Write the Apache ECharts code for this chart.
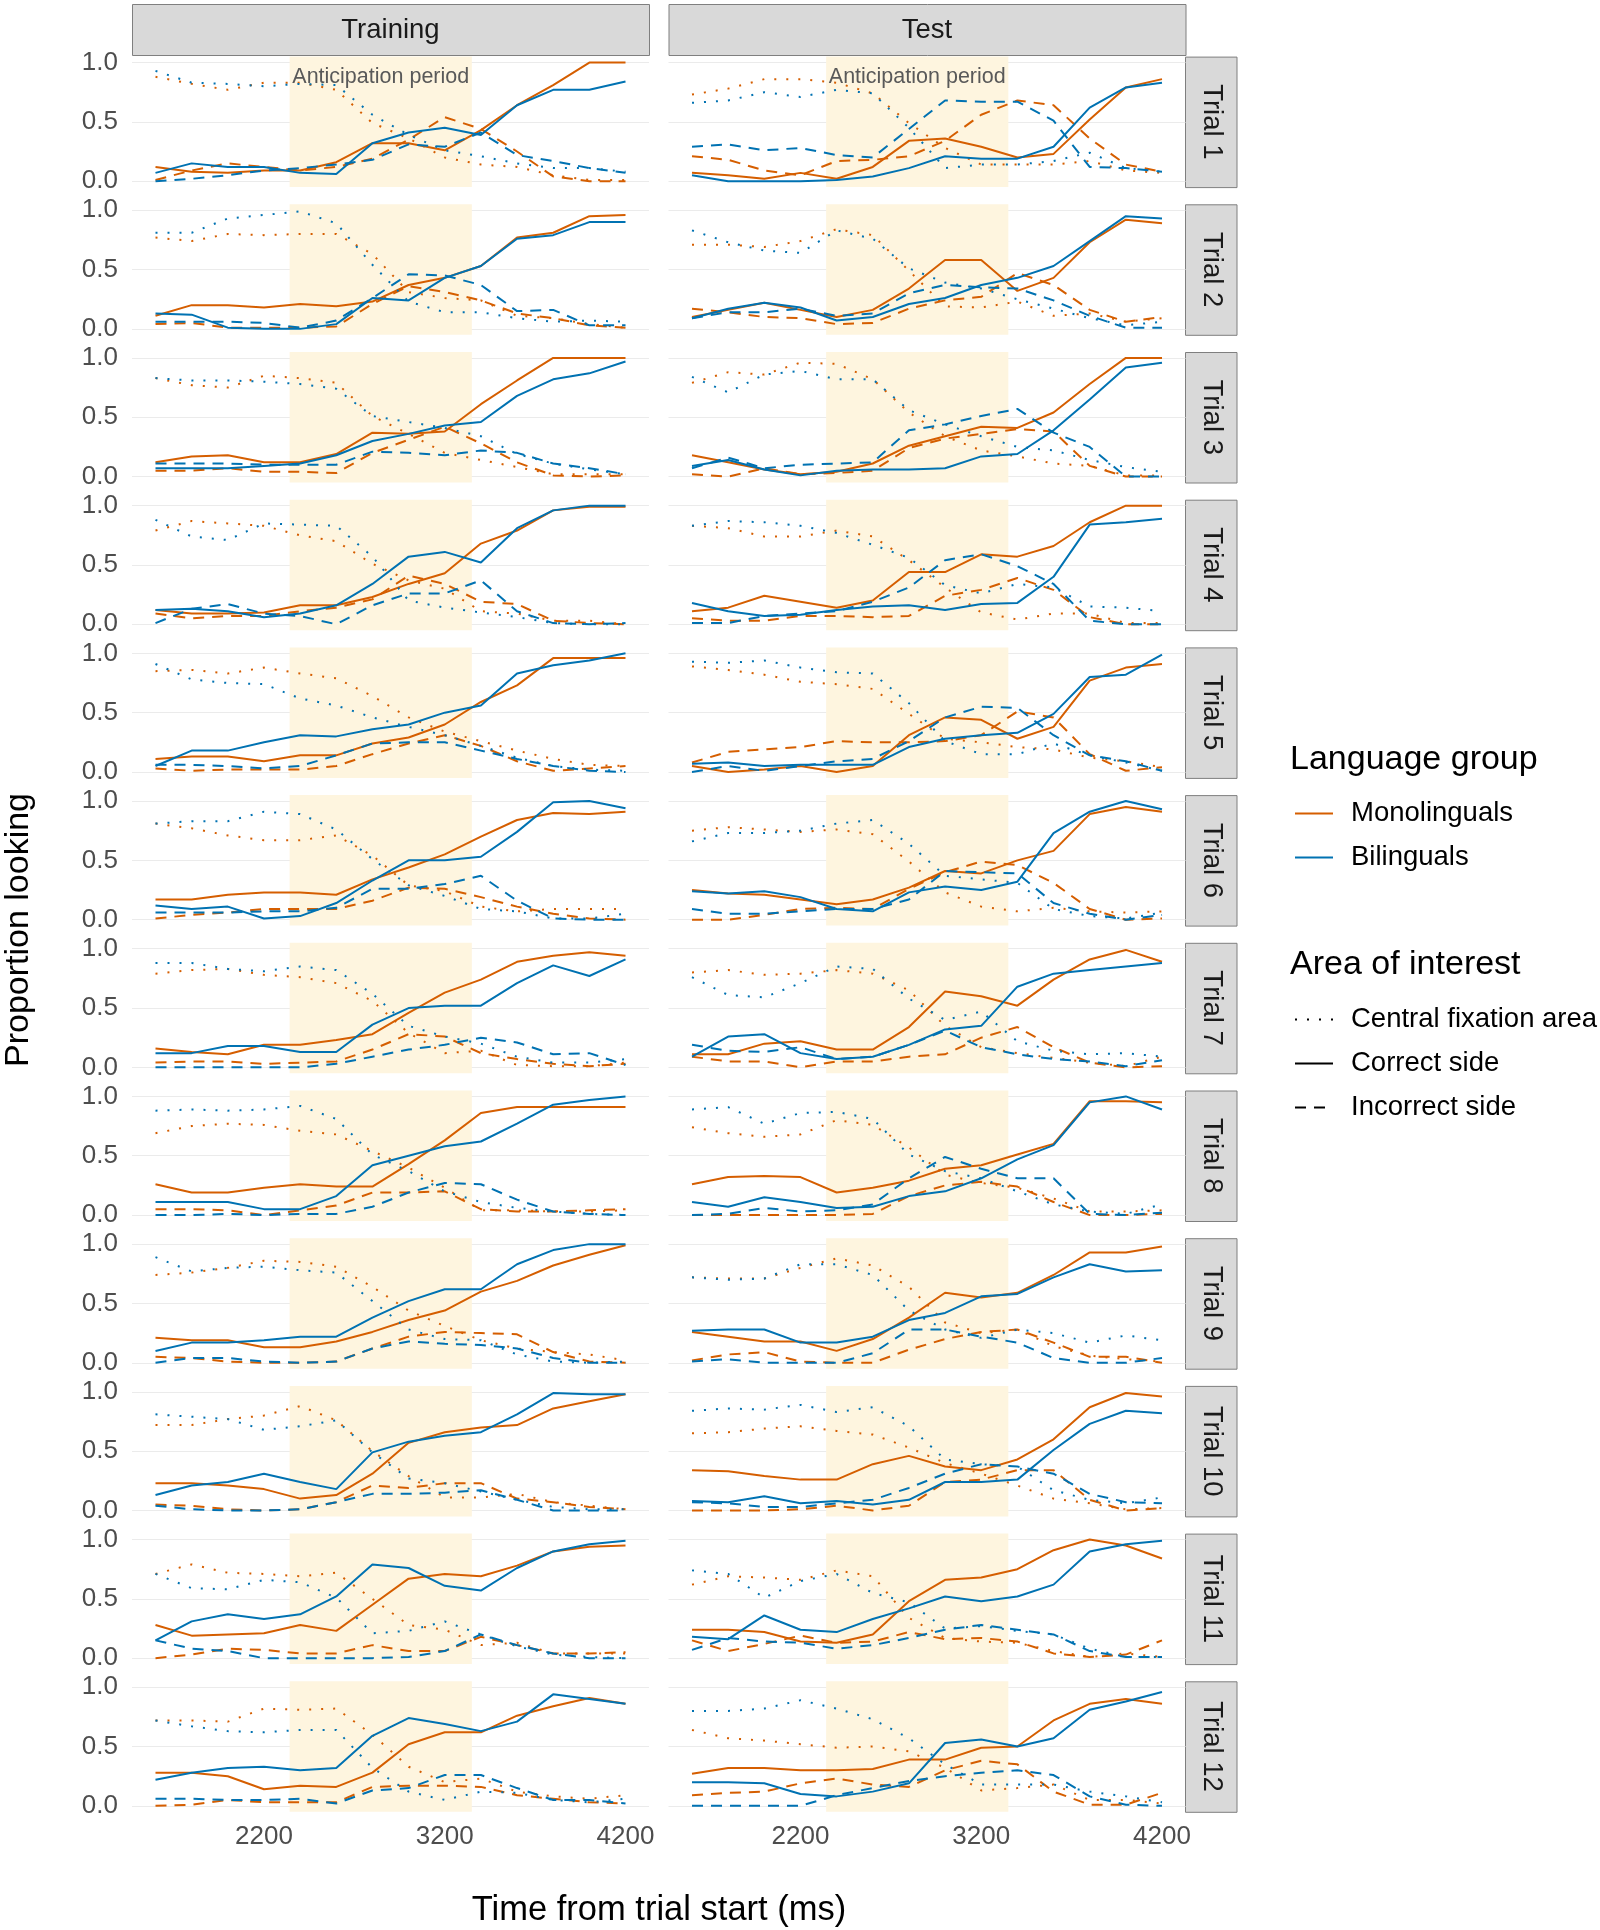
<!DOCTYPE html>
<html><head><meta charset="utf-8">
<script src="https://cdn.jsdelivr.net/npm/echarts@6/dist/echarts.min.js"></script>
<style>html,body{margin:0;padding:0;background:#fff}#c{width:1600px;height:1930px}</style>
</head><body><div id="c"></div>
<script>
const timePoints = [1600,1800,2000,2200,2400,2600,2800,3000,3200,3400,3600,3800,4000,4200];
const phases = ['Training','Test'];
const trials = ['Trial 1','Trial 2','Trial 3','Trial 4','Trial 5','Trial 6','Trial 7','Trial 8','Trial 9','Trial 10','Trial 11','Trial 12'];
const groups = ['Monolinguals','Bilinguals'];
const areas = ['Central fixation area','Correct side','Incorrect side'];
const xTickValues = [2200,3200,4200];
const yTickValues = [0,0.5,1];
const anticipationPeriod = [2342,3350];

const trainMonoCentral = [
[0.88,0.82,0.77,0.83,0.83,0.77,0.49,0.36,0.20,0.14,0.12,0.05,0.01,0.01],
[0.77,0.74,0.80,0.79,0.80,0.80,0.63,0.31,0.26,0.24,0.11,0.09,0.04,0.01],
[0.83,0.77,0.75,0.85,0.83,0.79,0.51,0.36,0.20,0.14,0.08,0.02,0.02,0.02],
[0.79,0.87,0.85,0.83,0.75,0.70,0.51,0.37,0.30,0.11,0.09,0.03,0.03,0.00],
[0.85,0.86,0.83,0.88,0.83,0.79,0.64,0.46,0.34,0.26,0.18,0.11,0.06,0.05],
[0.81,0.77,0.71,0.67,0.67,0.71,0.54,0.29,0.24,0.11,0.07,0.09,0.09,0.09],
[0.79,0.82,0.83,0.78,0.76,0.71,0.56,0.29,0.12,0.14,0.02,0.01,0.01,0.04],
[0.69,0.75,0.77,0.76,0.71,0.68,0.54,0.40,0.23,0.04,0.04,0.03,0.03,0.04],
[0.74,0.76,0.80,0.86,0.85,0.81,0.64,0.44,0.31,0.19,0.12,0.09,0.07,0.02],
[0.72,0.72,0.77,0.80,0.88,0.76,0.50,0.29,0.11,0.11,0.14,0.07,0.04,0.01],
[0.71,0.79,0.72,0.71,0.69,0.72,0.50,0.28,0.24,0.11,0.13,0.04,0.04,0.04],
[0.72,0.72,0.71,0.82,0.81,0.82,0.60,0.33,0.20,0.23,0.12,0.08,0.06,0.09]];
const trainMonoCorrect = [
[0.12,0.08,0.07,0.09,0.09,0.16,0.32,0.32,0.26,0.43,0.64,0.81,1.00,1.00],
[0.11,0.20,0.20,0.18,0.21,0.19,0.23,0.37,0.43,0.53,0.77,0.81,0.95,0.96],
[0.12,0.17,0.18,0.12,0.12,0.19,0.37,0.36,0.38,0.61,0.81,1.00,1.00,1.00],
[0.12,0.09,0.09,0.10,0.16,0.16,0.23,0.34,0.43,0.68,0.79,0.96,0.99,0.99],
[0.11,0.13,0.13,0.09,0.14,0.14,0.24,0.29,0.40,0.59,0.73,0.96,0.96,0.96],
[0.17,0.17,0.21,0.23,0.23,0.21,0.34,0.44,0.55,0.70,0.84,0.90,0.89,0.91],
[0.16,0.13,0.11,0.19,0.19,0.23,0.28,0.46,0.63,0.74,0.89,0.94,0.97,0.94],
[0.26,0.19,0.19,0.23,0.26,0.24,0.24,0.43,0.63,0.86,0.91,0.91,0.91,0.91],
[0.21,0.19,0.19,0.13,0.13,0.18,0.26,0.36,0.44,0.60,0.69,0.82,0.91,0.99],
[0.23,0.23,0.21,0.18,0.10,0.13,0.31,0.57,0.66,0.70,0.72,0.86,0.92,0.98],
[0.28,0.19,0.20,0.21,0.28,0.23,0.45,0.67,0.71,0.69,0.78,0.90,0.94,0.95],
[0.28,0.28,0.25,0.14,0.17,0.16,0.28,0.52,0.62,0.62,0.76,0.84,0.91,0.86]];
const trainMonoIncorrect = [
[0.01,0.09,0.15,0.12,0.09,0.12,0.19,0.35,0.54,0.44,0.25,0.04,0.00,0.00],
[0.04,0.05,0.01,0.01,0.01,0.02,0.21,0.36,0.31,0.24,0.13,0.09,0.03,0.01],
[0.05,0.05,0.07,0.04,0.04,0.03,0.20,0.31,0.42,0.28,0.12,0.01,0.00,0.01],
[0.09,0.05,0.07,0.07,0.11,0.14,0.21,0.41,0.34,0.19,0.17,0.03,0.01,0.00],
[0.03,0.01,0.02,0.02,0.02,0.05,0.15,0.24,0.31,0.22,0.09,0.01,0.03,0.05],
[0.01,0.04,0.06,0.09,0.09,0.09,0.16,0.27,0.26,0.19,0.11,0.05,0.01,0.00],
[0.04,0.05,0.05,0.03,0.04,0.05,0.15,0.28,0.26,0.12,0.07,0.03,0.01,0.03],
[0.05,0.05,0.04,0.00,0.04,0.08,0.19,0.19,0.20,0.05,0.03,0.03,0.04,0.05],
[0.05,0.04,0.01,0.00,0.00,0.01,0.12,0.22,0.26,0.25,0.24,0.09,0.01,0.00],
[0.05,0.04,0.01,0.00,0.01,0.07,0.21,0.19,0.23,0.23,0.10,0.07,0.03,0.01],
[0.00,0.03,0.08,0.07,0.04,0.04,0.11,0.06,0.06,0.18,0.11,0.04,0.04,0.05],
[0.00,0.01,0.05,0.03,0.03,0.03,0.16,0.17,0.17,0.16,0.09,0.06,0.03,0.02]];
const trainBiCentral = [
[0.93,0.83,0.82,0.80,0.82,0.81,0.56,0.39,0.26,0.21,0.15,0.11,0.11,0.08],
[0.81,0.81,0.93,0.96,0.99,0.89,0.54,0.23,0.14,0.14,0.09,0.06,0.07,0.06],
[0.83,0.81,0.81,0.80,0.78,0.74,0.51,0.46,0.41,0.34,0.19,0.11,0.06,0.02],
[0.88,0.74,0.71,0.85,0.84,0.83,0.57,0.20,0.14,0.10,0.06,0.01,0.00,0.00],
[0.91,0.78,0.75,0.74,0.62,0.56,0.46,0.38,0.31,0.22,0.12,0.05,0.02,0.01],
[0.81,0.83,0.83,0.91,0.89,0.76,0.51,0.29,0.20,0.09,0.07,0.01,0.01,0.05],
[0.88,0.88,0.83,0.81,0.85,0.82,0.62,0.35,0.26,0.20,0.09,0.04,0.04,0.07],
[0.88,0.89,0.88,0.89,0.92,0.81,0.51,0.37,0.20,0.11,0.06,0.03,0.01,0.00],
[0.89,0.77,0.80,0.81,0.78,0.76,0.52,0.28,0.20,0.19,0.07,0.01,0.00,0.01],
[0.81,0.79,0.77,0.68,0.71,0.76,0.49,0.27,0.23,0.16,0.09,0.03,0.01,0.01],
[0.71,0.59,0.58,0.66,0.64,0.51,0.21,0.23,0.31,0.20,0.10,0.03,0.01,0.00],
[0.72,0.67,0.63,0.62,0.64,0.64,0.32,0.12,0.05,0.12,0.11,0.05,0.03,0.06]];
const trainBiCorrect = [
[0.07,0.15,0.12,0.12,0.07,0.06,0.32,0.41,0.45,0.39,0.64,0.77,0.77,0.84],
[0.13,0.12,0.01,0.00,0.00,0.04,0.26,0.24,0.43,0.53,0.76,0.79,0.90,0.90],
[0.07,0.07,0.07,0.09,0.11,0.18,0.30,0.36,0.43,0.46,0.68,0.82,0.87,0.97],
[0.12,0.13,0.11,0.06,0.09,0.16,0.34,0.57,0.61,0.52,0.81,0.96,1.00,1.00],
[0.05,0.18,0.18,0.25,0.31,0.30,0.36,0.40,0.50,0.56,0.83,0.90,0.94,1.00],
[0.12,0.09,0.11,0.01,0.03,0.14,0.33,0.50,0.50,0.53,0.74,0.99,1.00,0.94],
[0.12,0.12,0.18,0.18,0.13,0.13,0.36,0.50,0.52,0.52,0.71,0.86,0.77,0.91],
[0.11,0.11,0.11,0.05,0.05,0.16,0.42,0.50,0.58,0.62,0.77,0.93,0.97,1.00],
[0.10,0.17,0.17,0.19,0.22,0.22,0.38,0.52,0.62,0.62,0.83,0.95,1.00,1.00],
[0.13,0.21,0.24,0.31,0.24,0.18,0.49,0.58,0.63,0.66,0.81,0.99,0.98,0.98],
[0.15,0.31,0.37,0.33,0.37,0.52,0.79,0.76,0.61,0.57,0.76,0.90,0.96,0.99],
[0.22,0.28,0.32,0.33,0.30,0.32,0.59,0.74,0.69,0.63,0.71,0.94,0.90,0.86]];
const trainBiIncorrect = [
[0.00,0.02,0.05,0.09,0.11,0.14,0.18,0.31,0.29,0.41,0.22,0.17,0.11,0.07],
[0.06,0.06,0.06,0.05,0.01,0.07,0.26,0.46,0.45,0.37,0.15,0.16,0.03,0.03],
[0.11,0.11,0.11,0.10,0.10,0.10,0.21,0.20,0.18,0.22,0.20,0.11,0.07,0.02],
[0.01,0.13,0.17,0.09,0.07,0.00,0.16,0.26,0.26,0.37,0.11,0.01,0.00,0.01],
[0.06,0.06,0.05,0.03,0.05,0.14,0.24,0.25,0.25,0.18,0.11,0.05,0.01,0.00],
[0.06,0.06,0.06,0.07,0.07,0.10,0.26,0.26,0.30,0.37,0.16,0.01,0.00,0.00],
[0.00,0.00,0.00,0.00,0.00,0.03,0.09,0.15,0.19,0.25,0.21,0.11,0.12,0.02],
[0.00,0.00,0.01,0.00,0.01,0.01,0.07,0.19,0.27,0.26,0.13,0.03,0.01,0.00],
[0.00,0.04,0.04,0.01,0.00,0.01,0.12,0.18,0.16,0.15,0.12,0.04,0.00,0.00],
[0.04,0.01,0.00,0.00,0.01,0.07,0.14,0.14,0.15,0.17,0.09,0.00,0.00,0.00],
[0.15,0.08,0.06,0.00,0.00,0.00,0.00,0.01,0.06,0.20,0.11,0.04,0.00,0.00],
[0.06,0.06,0.05,0.05,0.06,0.02,0.13,0.15,0.26,0.26,0.15,0.05,0.05,0.02]];

const testMonoCentral = [
[0.73,0.78,0.86,0.86,0.83,0.74,0.49,0.28,0.14,0.14,0.14,0.17,0.09,0.07],
[0.71,0.71,0.69,0.74,0.84,0.79,0.49,0.19,0.18,0.23,0.11,0.13,0.06,0.09],
[0.79,0.88,0.86,0.96,0.95,0.82,0.54,0.34,0.22,0.17,0.11,0.09,0.01,0.01],
[0.83,0.81,0.74,0.74,0.79,0.74,0.54,0.31,0.10,0.04,0.09,0.09,0.01,0.01],
[0.89,0.86,0.82,0.76,0.74,0.70,0.49,0.28,0.25,0.21,0.19,0.12,0.09,0.04],
[0.75,0.78,0.76,0.74,0.76,0.72,0.49,0.23,0.11,0.07,0.10,0.07,0.06,0.07],
[0.80,0.82,0.78,0.79,0.82,0.79,0.65,0.35,0.17,0.12,0.08,0.04,0.01,0.09],
[0.74,0.69,0.66,0.68,0.80,0.76,0.57,0.34,0.27,0.23,0.14,0.03,0.03,0.04],
[0.72,0.71,0.71,0.80,0.88,0.82,0.64,0.34,0.25,0.28,0.14,0.06,0.03,0.01],
[0.65,0.66,0.69,0.71,0.67,0.64,0.53,0.40,0.31,0.21,0.10,0.06,0.01,0.02],
[0.62,0.69,0.68,0.66,0.74,0.69,0.34,0.17,0.14,0.13,0.06,0.01,0.04,0.01],
[0.64,0.57,0.55,0.52,0.49,0.50,0.46,0.32,0.13,0.15,0.18,0.05,0.05,0.02]];
const testMonoCorrect = [
[0.07,0.05,0.02,0.07,0.02,0.12,0.34,0.36,0.29,0.20,0.23,0.52,0.79,0.86],
[0.10,0.16,0.22,0.16,0.10,0.16,0.34,0.58,0.58,0.32,0.43,0.73,0.92,0.89],
[0.18,0.12,0.06,0.02,0.04,0.11,0.26,0.34,0.42,0.41,0.54,0.78,1.00,1.00],
[0.11,0.14,0.24,0.19,0.14,0.20,0.44,0.44,0.59,0.57,0.66,0.86,1.00,1.00],
[0.05,0.00,0.02,0.05,0.00,0.05,0.31,0.46,0.44,0.28,0.38,0.77,0.88,0.91],
[0.25,0.22,0.21,0.17,0.13,0.17,0.27,0.41,0.39,0.50,0.58,0.89,0.95,0.91],
[0.11,0.11,0.20,0.22,0.15,0.15,0.34,0.64,0.60,0.52,0.74,0.91,0.99,0.89],
[0.26,0.32,0.33,0.32,0.19,0.23,0.29,0.39,0.42,0.51,0.60,0.96,0.96,0.95],
[0.26,0.22,0.18,0.18,0.10,0.20,0.38,0.59,0.55,0.59,0.74,0.93,0.93,0.98],
[0.34,0.33,0.29,0.26,0.26,0.39,0.46,0.37,0.34,0.43,0.60,0.87,0.99,0.96],
[0.24,0.24,0.22,0.14,0.13,0.20,0.48,0.66,0.68,0.75,0.91,1.00,0.95,0.84],
[0.27,0.32,0.32,0.30,0.30,0.31,0.39,0.39,0.49,0.50,0.72,0.86,0.90,0.86]];
const testMonoIncorrect = [
[0.21,0.18,0.09,0.05,0.17,0.18,0.21,0.34,0.56,0.68,0.64,0.36,0.14,0.08],
[0.17,0.14,0.10,0.09,0.04,0.05,0.17,0.24,0.27,0.47,0.37,0.16,0.06,0.10],
[0.02,0.00,0.07,0.02,0.03,0.05,0.24,0.32,0.36,0.40,0.38,0.09,0.00,0.00],
[0.05,0.03,0.03,0.07,0.07,0.06,0.07,0.24,0.29,0.39,0.29,0.06,0.00,0.00],
[0.08,0.17,0.19,0.21,0.26,0.25,0.25,0.26,0.31,0.51,0.46,0.15,0.01,0.04],
[0.00,0.00,0.04,0.09,0.10,0.09,0.26,0.40,0.49,0.46,0.31,0.09,0.00,0.01],
[0.09,0.05,0.05,0.00,0.05,0.05,0.09,0.11,0.25,0.34,0.17,0.04,0.00,0.01],
[0.00,0.00,0.00,0.00,0.00,0.01,0.16,0.25,0.28,0.24,0.11,0.00,0.00,0.01],
[0.02,0.07,0.09,0.01,0.00,0.00,0.11,0.20,0.26,0.28,0.17,0.05,0.05,0.00],
[0.00,0.00,0.00,0.01,0.04,0.00,0.04,0.24,0.26,0.34,0.34,0.09,0.00,0.02],
[0.15,0.06,0.12,0.19,0.13,0.14,0.22,0.16,0.17,0.14,0.04,0.01,0.03,0.15],
[0.09,0.11,0.12,0.19,0.23,0.18,0.16,0.30,0.38,0.35,0.12,0.01,0.01,0.11]];
const testBiCentral = [
[0.66,0.68,0.75,0.71,0.77,0.74,0.45,0.11,0.14,0.14,0.17,0.24,0.11,0.08],
[0.83,0.73,0.66,0.64,0.83,0.76,0.51,0.39,0.34,0.25,0.17,0.09,0.03,0.06],
[0.84,0.71,0.86,0.89,0.82,0.82,0.56,0.44,0.34,0.25,0.22,0.14,0.08,0.04],
[0.83,0.87,0.86,0.83,0.77,0.67,0.56,0.33,0.26,0.34,0.31,0.15,0.14,0.11],
[0.93,0.92,0.94,0.88,0.84,0.83,0.58,0.26,0.15,0.15,0.24,0.14,0.08,0.01],
[0.66,0.73,0.73,0.75,0.81,0.84,0.64,0.37,0.34,0.31,0.09,0.03,0.01,0.06],
[0.76,0.61,0.59,0.71,0.85,0.83,0.58,0.40,0.47,0.22,0.14,0.11,0.12,0.09],
[0.89,0.91,0.77,0.86,0.87,0.81,0.51,0.37,0.31,0.20,0.09,0.03,0.01,0.09],
[0.72,0.70,0.71,0.83,0.83,0.74,0.44,0.28,0.21,0.28,0.25,0.17,0.23,0.19],
[0.84,0.86,0.85,0.89,0.83,0.87,0.71,0.43,0.39,0.37,0.17,0.09,0.06,0.11],
[0.74,0.71,0.51,0.65,0.71,0.55,0.47,0.25,0.27,0.23,0.20,0.08,0.01,0.01],
[0.80,0.80,0.82,0.89,0.82,0.73,0.57,0.35,0.18,0.18,0.18,0.12,0.08,0.03]];
const testBiCorrect = [
[0.05,0.00,0.00,0.00,0.01,0.04,0.11,0.21,0.19,0.19,0.29,0.62,0.79,0.83],
[0.09,0.17,0.22,0.18,0.07,0.10,0.21,0.26,0.37,0.43,0.53,0.74,0.95,0.93],
[0.09,0.14,0.06,0.01,0.05,0.06,0.06,0.07,0.17,0.19,0.39,0.65,0.92,0.96],
[0.18,0.11,0.07,0.08,0.12,0.15,0.16,0.12,0.17,0.18,0.40,0.84,0.86,0.89],
[0.07,0.08,0.05,0.06,0.06,0.06,0.21,0.28,0.31,0.33,0.49,0.80,0.82,0.99],
[0.24,0.22,0.24,0.19,0.09,0.07,0.23,0.28,0.25,0.32,0.73,0.91,1.00,0.93],
[0.09,0.26,0.28,0.12,0.07,0.09,0.19,0.32,0.35,0.68,0.79,0.82,0.85,0.88],
[0.11,0.07,0.15,0.11,0.06,0.07,0.16,0.20,0.31,0.47,0.59,0.95,1.00,0.89],
[0.27,0.28,0.28,0.17,0.17,0.22,0.36,0.42,0.56,0.58,0.72,0.83,0.77,0.78],
[0.08,0.07,0.12,0.06,0.08,0.05,0.09,0.24,0.24,0.26,0.51,0.73,0.84,0.82],
[0.18,0.16,0.36,0.24,0.22,0.33,0.42,0.52,0.48,0.52,0.62,0.90,0.96,0.99],
[0.20,0.20,0.19,0.10,0.08,0.12,0.19,0.53,0.56,0.50,0.57,0.81,0.88,0.96]];
const testBiIncorrect = [
[0.29,0.31,0.26,0.28,0.22,0.20,0.44,0.68,0.67,0.67,0.51,0.12,0.11,0.08],
[0.09,0.14,0.14,0.17,0.11,0.13,0.30,0.37,0.35,0.34,0.24,0.11,0.01,0.01],
[0.07,0.16,0.07,0.10,0.11,0.12,0.39,0.44,0.51,0.57,0.37,0.25,0.00,0.00],
[0.01,0.01,0.07,0.09,0.11,0.19,0.31,0.54,0.59,0.49,0.34,0.03,0.00,0.00],
[0.00,0.05,0.01,0.05,0.09,0.11,0.26,0.46,0.55,0.54,0.31,0.14,0.09,0.01],
[0.09,0.05,0.05,0.07,0.09,0.09,0.17,0.41,0.40,0.39,0.14,0.05,0.00,0.04],
[0.19,0.14,0.13,0.17,0.07,0.09,0.19,0.31,0.17,0.11,0.07,0.05,0.01,0.06],
[0.00,0.01,0.06,0.03,0.04,0.09,0.31,0.49,0.39,0.31,0.31,0.01,0.00,0.02],
[0.01,0.03,0.00,0.00,0.00,0.08,0.28,0.28,0.22,0.17,0.04,0.00,0.00,0.04],
[0.07,0.06,0.03,0.03,0.06,0.09,0.19,0.31,0.39,0.37,0.31,0.14,0.07,0.06],
[0.07,0.17,0.14,0.13,0.08,0.11,0.17,0.24,0.28,0.24,0.20,0.06,0.01,0.01],
[0.00,0.00,0.00,0.00,0.09,0.15,0.21,0.25,0.28,0.30,0.26,0.08,0.01,0.00]];

// ---- styling / layout ----
const FONT = '"Liberation Sans", Arial, sans-serif';
const groupColor = { Monolinguals: '#D55E00', Bilinguals: '#0072B2' };
const areaDash = { 'Central fixation area': [2, 10], 'Correct side': 'solid', 'Incorrect side': [11, 8] };
const seriesArrays = {
  Training: { Monolinguals: [trainMonoCentral, trainMonoCorrect, trainMonoIncorrect],
              Bilinguals: [trainBiCentral, trainBiCorrect, trainBiIncorrect] },
  Test: { Monolinguals: [testMonoCentral, testMonoCorrect, testMonoIncorrect],
          Bilinguals: [testBiCentral, testBiCorrect, testBiIncorrect] }
};
const panelLeft = [132, 668.5];
const panelW = 517;
const panelTop0 = 56.6, rowStep = 147.7, panelH = 130.5;
const stripX = 1185.5, stripW = 51.5;
const xMin = 1470, xMax = 4330;

const grids = [], xAxes = [], yAxes = [], series = [], graphics = [];

trials.forEach((trial, r) => {
  phases.forEach((phase, c) => {
    const idx = r * 2 + c;
    const top = panelTop0 + r * rowStep;
    grids.push({ left: panelLeft[c], top: top, width: panelW, height: panelH });
    xAxes.push({
      type: 'value', gridIndex: idx, min: xMin, max: xMax,
      axisLine: { show: false }, axisTick: { show: false, customValues: xTickValues },
      splitLine: { show: false },
      axisLabel: { show: r === trials.length - 1, customValues: xTickValues, margin: 12,
                   formatter: v => String(Math.round(v)),
                   fontSize: 26, color: '#4D4D4D', fontFamily: FONT }
    });
    yAxes.push({
      type: 'value', gridIndex: idx, min: -0.05, max: 1.05,
      axisLine: { show: false }, axisTick: { show: false, customValues: yTickValues },
      splitLine: { show: true, lineStyle: { color: '#EBEBEB', width: 1 } },
      axisLabel: { show: c === 0, customValues: yTickValues, margin: 14,
                   formatter: v => Number(v).toFixed(1),
                   fontSize: 26, color: '#4D4D4D', fontFamily: FONT }
    });
    let first = true;
    groups.forEach(g => {
      areas.forEach((a, ai) => {
        const vals = seriesArrays[phase][g][ai][r];
        const s = {
          type: 'line', name: g + ' - ' + a, xAxisIndex: idx, yAxisIndex: idx,
          data: timePoints.map((t, i) => [t, vals[i]]),
          symbol: 'none', silent: true, animation: false,
          lineStyle: { color: groupColor[g], width: 2, type: areaDash[a] }
        };
        if (first) {
          s.markArea = {
            silent: true,
            itemStyle: { color: '#FEF5DF', borderWidth: 0 },
            label: { show: r === 0, position: 'insideTop', distance: 9,
                     formatter: 'Anticipation period', color: '#595959', fontSize: 21.5, fontFamily: FONT },
            data: [[{ xAxis: anticipationPeriod[0] }, { xAxis: anticipationPeriod[1] }]]
          };
          first = false;
        }
        series.push(s);
      });
    });
    if (c === 1) {
      graphics.push({ type: 'rect', silent: true,
        shape: { x: stripX, y: top + 0.5, width: stripW, height: panelH },
        style: { fill: '#D9D9D9', stroke: '#7F7F7F', lineWidth: 1 } });
      graphics.push({ type: 'text', silent: true, x: stripX + stripW / 2, y: top + panelH / 2,
        rotation: -Math.PI / 2,
        style: { text: trial, fill: '#1A1A1A', font: '27.5px ' + FONT, align: 'center', verticalAlign: 'middle' } });
    }
  });
});

phases.forEach((phase, c) => {
  graphics.push({ type: 'rect', silent: true,
    shape: { x: panelLeft[c] + 0.5, y: 4.5, width: panelW, height: 51 },
    style: { fill: '#D9D9D9', stroke: '#7F7F7F', lineWidth: 1 } });
  graphics.push({ type: 'text', silent: true, x: panelLeft[c] + panelW / 2, y: 30,
    style: { text: phase, fill: '#1A1A1A', font: '27.5px ' + FONT, align: 'center', verticalAlign: 'middle' } });
});

graphics.push({ type: 'text', silent: true, x: 19, y: 930, rotation: Math.PI / 2,
  style: { text: 'Proportion looking', fill: '#000', font: '34px ' + FONT, align: 'center', verticalAlign: 'middle' } });
graphics.push({ type: 'text', silent: true, x: 659, y: 1910,
  style: { text: 'Time from trial start (ms)', fill: '#000', font: '34.5px ' + FONT, align: 'center', verticalAlign: 'middle' } });

const legX = 1290, keyX1 = 1295, keyX2 = 1333, labX = 1351;
graphics.push({ type: 'text', silent: true, x: legX, y: 759.5,
  style: { text: 'Language group', fill: '#000', font: '34px ' + FONT, align: 'left', verticalAlign: 'middle' } });
groups.forEach((g, i) => {
  const y = 813.5 + i * 44;
  graphics.push({ type: 'line', silent: true, shape: { x1: keyX1, y1: y, x2: keyX2, y2: y },
    style: { stroke: groupColor[g], lineWidth: 2 } });
  graphics.push({ type: 'text', silent: true, x: labX, y: y,
    style: { text: g, fill: '#000', font: '27.5px ' + FONT, align: 'left', verticalAlign: 'middle' } });
});
graphics.push({ type: 'text', silent: true, x: legX, y: 964.5,
  style: { text: 'Area of interest', fill: '#000', font: '34px ' + FONT, align: 'left', verticalAlign: 'middle' } });
areas.forEach((a, i) => {
  const y = 1019.5 + i * 44;
  const st = { stroke: '#000', lineWidth: 2 };
  if (areaDash[a] !== 'solid') st.lineDash = areaDash[a];
  graphics.push({ type: 'line', silent: true, shape: { x1: keyX1, y1: y, x2: keyX2, y2: y }, style: st });
  graphics.push({ type: 'text', silent: true, x: labX, y: y,
    style: { text: a, fill: '#000', font: '27.5px ' + FONT, align: 'left', verticalAlign: 'middle' } });
});

const chart = echarts.init(document.getElementById('c'), null, { renderer: 'canvas' });
chart.setOption({
  animation: false,
  backgroundColor: '#fff',
  grid: grids, xAxis: xAxes, yAxis: yAxes, series: series, graphic: graphics
});
</script></body></html>
